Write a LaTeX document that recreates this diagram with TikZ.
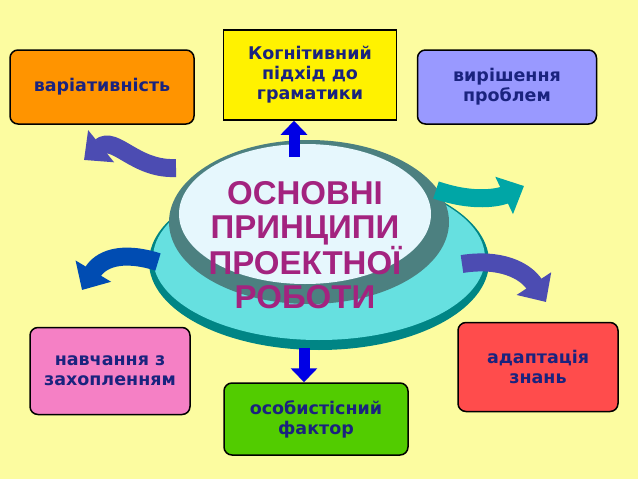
\documentclass[tikz,border=0pt]{standalone}
\usepackage{fontspec}
\setmainfont{DejaVu Sans}
\newfontfamily\arialb{Liberation Sans}
\usetikzlibrary{arrows.meta,shadows}
\definecolor{bg}{HTML}{FCFCA0}
\definecolor{navy}{HTML}{1A237E}
\definecolor{purp}{HTML}{A3237F}
\tikzset{
 box/.style={draw=black,line width=1.5pt,rounded corners=8pt,align=center,font=\bfseries\fontsize{17.5}{20}\selectfont,text=navy,inner sep=2pt},
 carrow/.style={line width=18pt,-{Triangle[width=40pt,length=22pt]}},
 sarrow/.style={line width=11pt,draw=blue!90!black,-{Triangle[width=26pt,length=14pt]}}
}
\begin{document}
\begin{tikzpicture}[x=1pt,y=-1pt]
\fill[bg] (0,0) rectangle (638,479);
\useasboundingbox (0,0) rectangle (638,479);
% center
\fill[teal!70!cyan!80!black] (319,262) ellipse (170 and 88);
\fill[teal!40!cyan!60!white] (319,258) ellipse (166 and 82);
\fill[gray!60!teal] (309,222) ellipse (140 and 82);
\fill[cyan!10!white] (305,214) ellipse (126 and 70);
\node[font=\arialb\bfseries\fontsize{33}{34}\selectfont,text=purp,align=center] (c) at (305,245) {ОСНОВНІ\\ПРИНЦИПИ\\ПРОЕКТНОЇ\\РОБОТИ};
% boxes
\node[box,fill=orange!80!red!70!yellow,minimum width=184,minimum height=74] (a) at (102,87) {варіативність};
\node[box,fill=yellow,rounded corners=0pt,minimum width=173,minimum height=90] (b) at (310,75) {Когнітивний\\підхід до\\граматики};
\node[box,fill=blue!40!white,minimum width=179,minimum height=74] (d) at (507,87) {вирішення\\проблем};
\node[box,fill=magenta!50!white,minimum width=160,minimum height=87] (e) at (110,371) {навчання з\\захопленням};
\node[box,fill=green!60!yellow!80!black,minimum width=184,minimum height=72] (f) at (316,419) {особистісний\\фактор};
\node[box,fill=red!70!white,minimum width=160,minimum height=89] (g) at (538,367) {адаптація\\знань};
% straight arrows
\coordinate (u0) at (294,157);
\coordinate (d0) at (304,348);
\draw[sarrow] (u0) -- (b.south -| u0);
\draw[sarrow] (d0) -- (f.north -| d0);
% curved arrows
\coordinate (t1) at (176,168); \coordinate (h1) at (84,160);
\coordinate (t2) at (436,190); \coordinate (h2) at (524,186);
\coordinate (t3) at (158,262); \coordinate (h3) at (82,290);
\coordinate (t4) at (462,264); \coordinate (h4) at (546,302);
\draw[carrow,draw=blue!40!gray] (t1) .. controls (135,170) and (115,135) .. (h1);
\draw[carrow,draw=teal!70!cyan] (t2) .. controls (480,205) and (505,195) .. (h2);
\draw[carrow,draw=teal!60!blue] (t3) .. controls (120,250) and (100,260) .. (h3);
\draw[carrow,draw=blue!40!gray] (t4) .. controls (500,258) and (525,270) .. (h4);
\end{tikzpicture}
\end{document}
